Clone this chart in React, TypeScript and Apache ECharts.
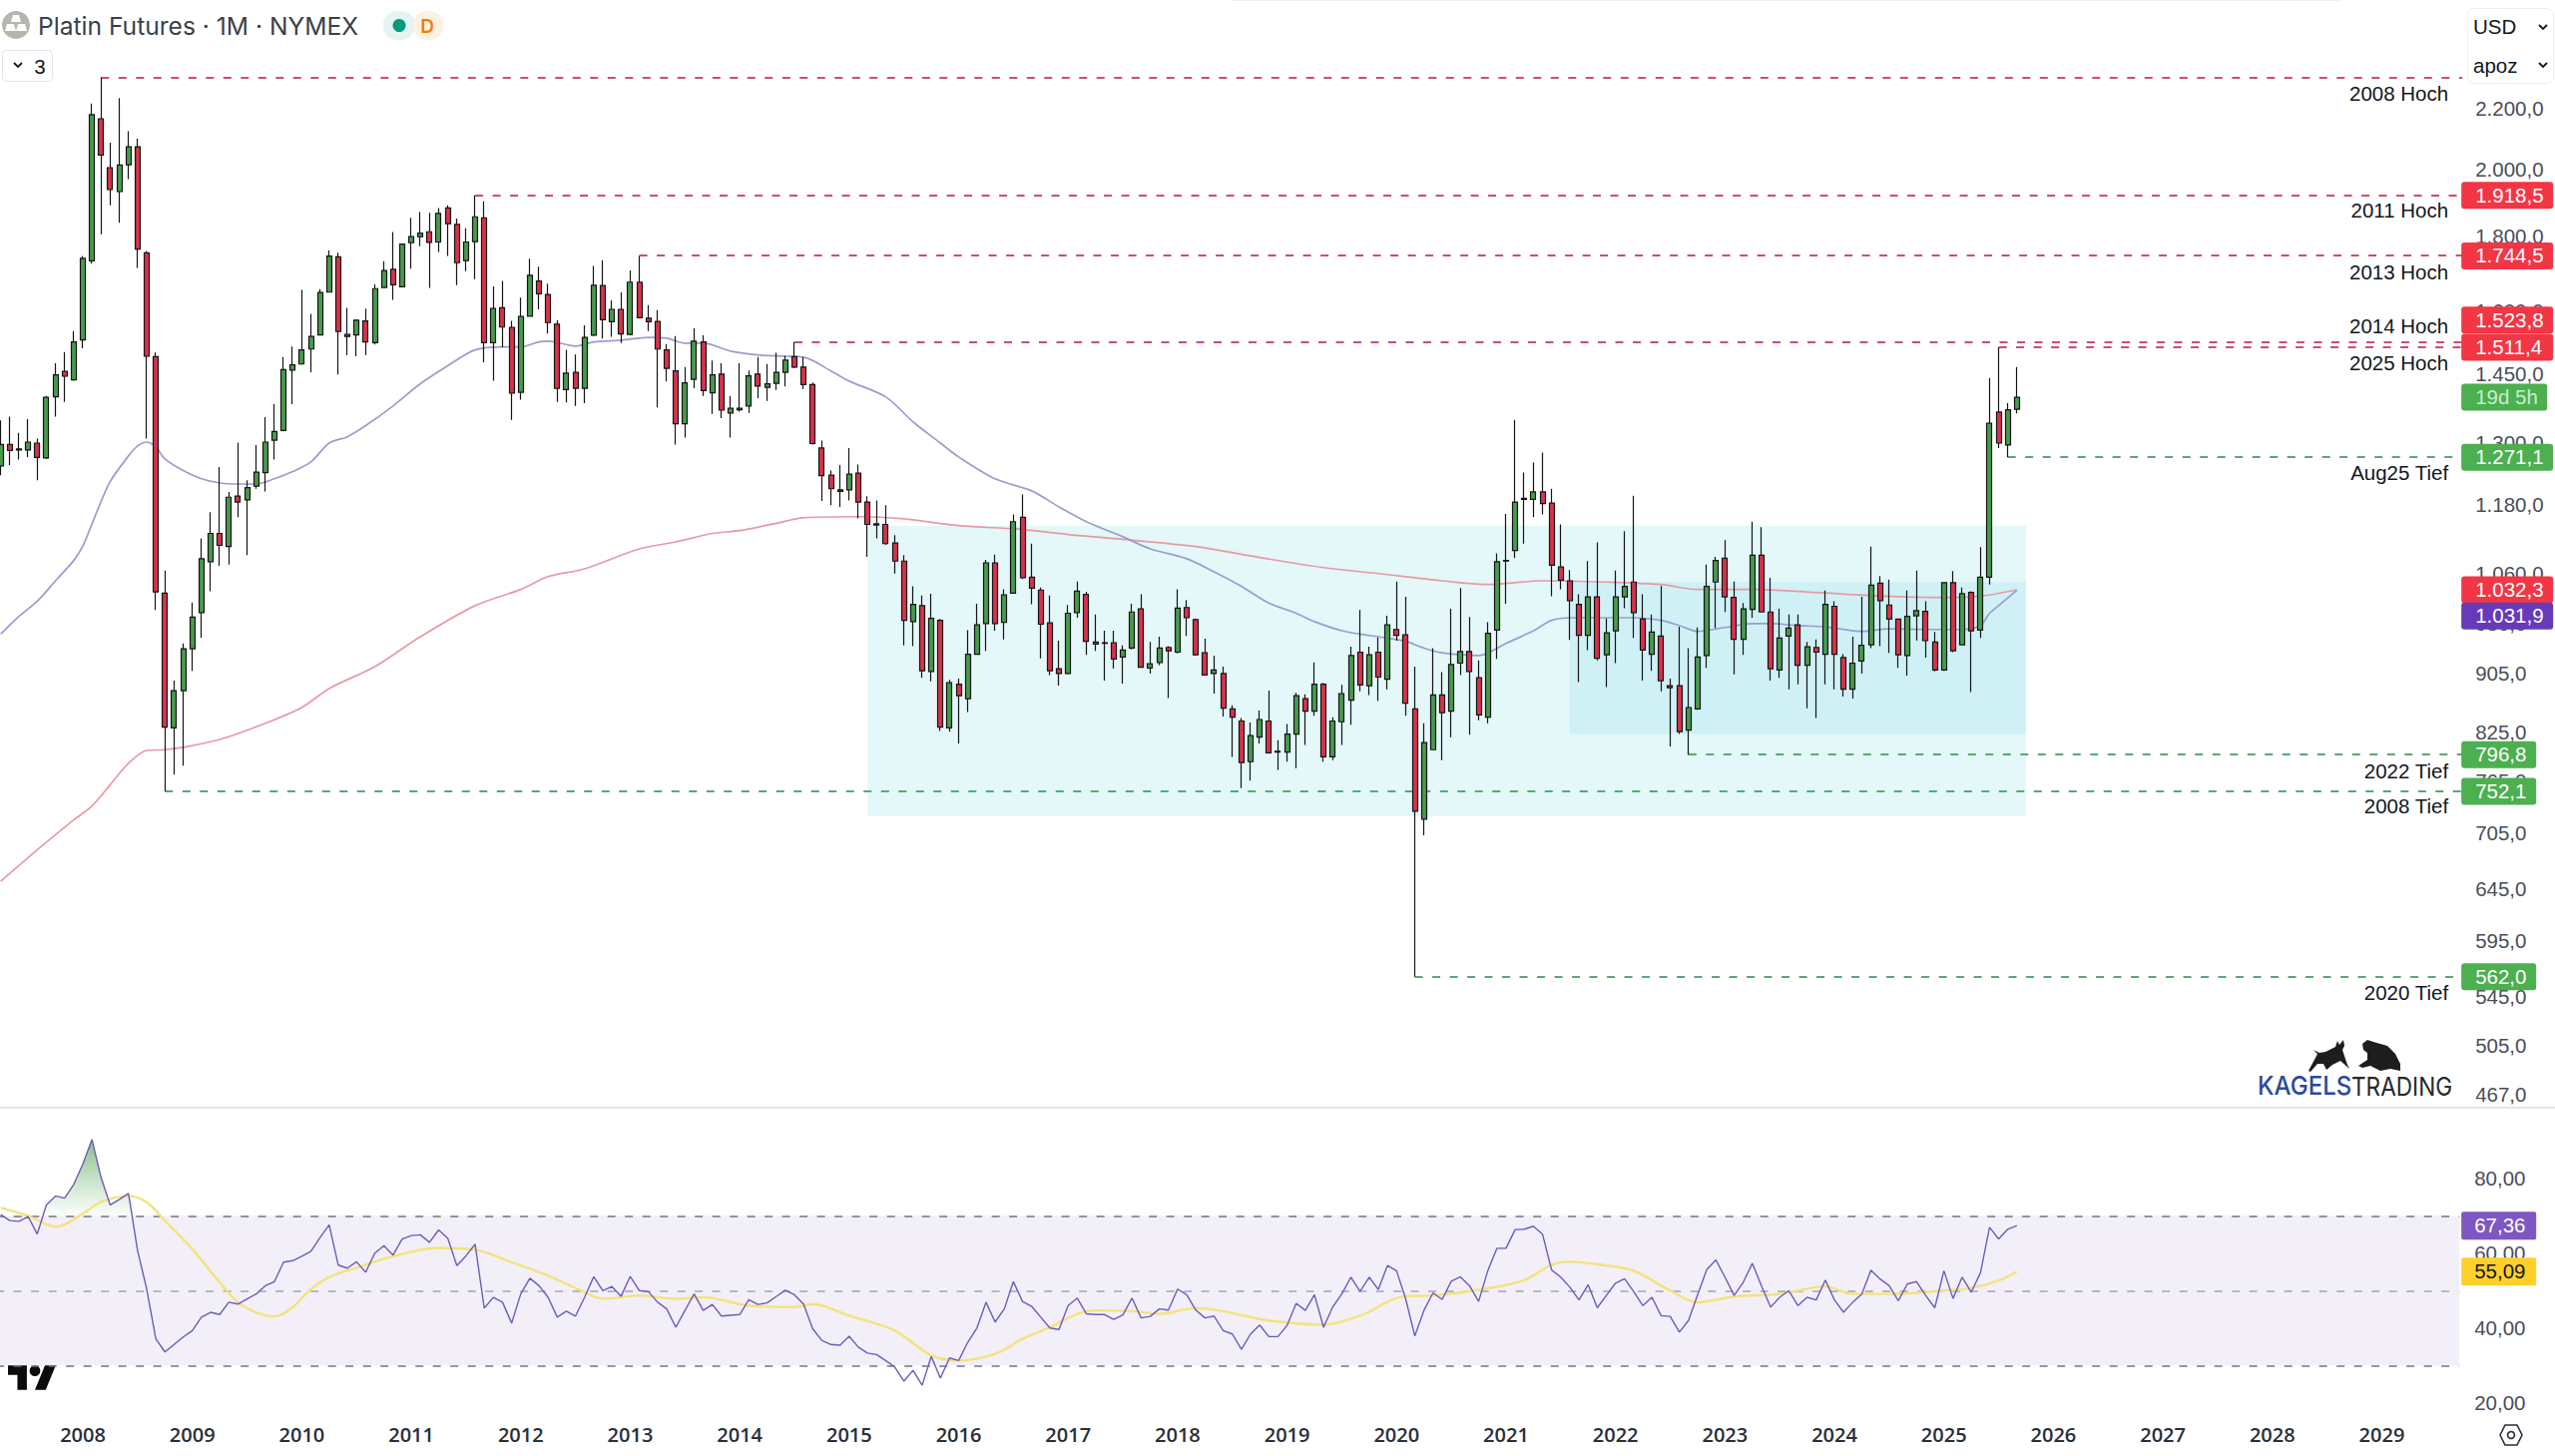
import React, { useEffect, useRef } from "react";
import * as echarts from "echarts";

// ---------- data ----------
const firstYear = 2007;
const firstMonth = 4;
const monthCount = 270;
const categories: string[] = [];
for (let k = 0; k < monthCount; k++) {
  const m = firstMonth - 1 + k;
  const y = firstYear + Math.floor(m / 12);
  categories.push(`${y}-${String((m % 12) + 1).padStart(2, "0")}`);
}

const opens = [
  1254, 1297, 1286, 1286, 1300, 1270, 1398, 1455, 1436, 1529,
  1731, 2164, 2004, 1930, 2013, 2071, 1753, 1489, 1027, 831,
  881, 941, 996, 1079, 1128, 1105, 1196, 1189, 1215, 1241,
  1306, 1326, 1458, 1472, 1507, 1541, 1648, 1742, 1542, 1541,
  1575, 1522, 1660, 1708, 1662, 1781, 1798, 1812, 1783, 1881,
  1833, 1732, 1784, 1852, 1522, 1608, 1559, 1408, 1587, 1677,
  1642, 1567, 1414, 1453, 1417, 1540, 1665, 1573, 1604, 1542,
  1674, 1582, 1574, 1505, 1456, 1340, 1437, 1524, 1407, 1449,
  1363, 1370, 1378, 1449, 1419, 1428, 1453, 1489, 1465, 1425,
  1290, 1236, 1205, 1208, 1240, 1185, 1145, 1144, 1111, 1080,
  982, 1007, 908, 984, 831, 890, 870, 933, 979, 1077,
  981, 1027, 1157, 1053, 1032, 980, 912, 905, 996, 1025,
  951, 950, 950, 929, 942, 1002, 913, 921, 943, 936,
  1004, 985, 935, 905, 905, 856, 840, 788, 819, 840,
  801, 800, 823, 870, 853, 890, 794, 839, 868, 936,
  888, 936, 897, 970, 962, 856, 720, 803, 875, 853,
  920, 937, 899, 845, 969, 1080, 1098, 1190, 1190, 1204,
  1183, 1070, 1047, 1009, 961, 1021, 932, 968, 1021, 1045,
  986, 933, 960, 888, 888, 828, 856, 931, 1045, 1085,
  1020, 955, 1001, 1090, 997, 910, 960, 977, 917, 943,
  933, 1006, 928, 883, 923, 947, 1043, 1008, 986, 931,
  991, 998, 951, 910, 1044, 947, 1028, 969, 1053, 1365,
  1296, 1371,
];
const closes = [
  1297, 1285, 1288, 1302, 1271, 1397, 1447, 1444, 1524, 1738,
  2178, 2044, 1936, 2012, 2071, 1763, 1490, 1029, 832, 881,
  941, 989, 1084, 1128, 1107, 1194, 1185, 1212, 1242, 1302,
  1324, 1459, 1470, 1505, 1537, 1647, 1744, 1549, 1537, 1577,
  1524, 1657, 1705, 1667, 1777, 1798, 1808, 1782, 1865, 1835,
  1726, 1783, 1855, 1522, 1606, 1560, 1406, 1586, 1692, 1644,
  1571, 1417, 1451, 1417, 1535, 1666, 1578, 1604, 1543, 1674,
  1583, 1573, 1507, 1462, 1340, 1429, 1526, 1412, 1447, 1369,
  1373, 1373, 1445, 1422, 1427, 1453, 1481, 1465, 1425, 1299,
  1235, 1210, 1208, 1238, 1185, 1144, 1143, 1110, 1080, 984,
  1009, 909, 987, 832, 892, 874, 933, 977, 1077, 979,
  1024, 1149, 1052, 1035, 978, 909, 905, 995, 1030, 952,
  948, 949, 926, 939, 997, 914, 919, 942, 938, 1003,
  988, 932, 903, 910, 857, 845, 787, 821, 842, 799,
  800, 823, 874, 853, 890, 794, 840, 877, 931, 889,
  932, 900, 977, 961, 864, 729, 812, 875, 851, 918,
  937, 908, 848, 964, 1079, 1081, 1185, 1192, 1204, 1182,
  1073, 1048, 1015, 961, 1021, 927, 965, 1021, 1038, 996,
  939, 966, 895, 885, 826, 858, 929, 1038, 1081, 1021,
  955, 1002, 1090, 997, 912, 957, 972, 917, 944, 936,
  1009, 933, 883, 920, 946, 1040, 1015, 986, 932, 990,
  999, 953, 910, 1044, 938, 1026, 968, 1053, 1341, 1300,
  1370, 1397,
];
const highs = [
  1347, 1355, 1321, 1350, 1309, 1400, 1474, 1500, 1550, 1744,
  2216, 2310, 2084, 2236, 2122, 2097, 1758, 1499, 1064, 895,
  949, 1012, 1119, 1166, 1252, 1204, 1301, 1226, 1296, 1354,
  1382, 1488, 1513, 1654, 1593, 1656, 1760, 1753, 1608, 1579,
  1606, 1668, 1730, 1811, 1779, 1852, 1869, 1867, 1881, 1889,
  1850, 1822, 1918.5, 1901, 1663, 1677, 1575, 1634, 1737, 1715,
  1670, 1577, 1505, 1494, 1564, 1717, 1733, 1627, 1647, 1705,
  1744.5, 1615, 1602, 1519, 1538, 1465, 1557, 1540, 1480, 1474,
  1400, 1474, 1457, 1488, 1472, 1498, 1491, 1523.8, 1488, 1430,
  1305, 1245, 1256, 1290, 1257, 1196, 1188, 1179, 1125, 1090,
  1038, 1023, 1026, 986, 896, 898, 969, 1010, 1082, 1091,
  1033, 1162, 1199, 1110, 1036, 1023, 953, 1008, 1046, 1029,
  993, 968, 968, 946, 1010, 1025, 951, 959, 945, 1033,
  1016, 987, 956, 931, 915, 861, 844, 838, 854, 881,
  815, 836, 878, 876, 921, 892, 845, 889, 944, 1000,
  944, 958, 991, 1046, 1021, 915, 837, 942, 907, 1002,
  1035, 989, 924, 981, 1093, 1163, 1348, 1241, 1261, 1281,
  1210, 1144, 1065, 1025, 1080, 1112, 987, 1064, 1132, 1197,
  1025, 993, 1039, 898, 974, 942, 973, 1074, 1087, 1116,
  1046, 1011, 1149, 1139, 1052, 1002, 993, 993, 951, 955,
  1031, 1014, 933, 959, 1021, 1105, 1055, 1049, 987, 1031,
  1064, 1014, 966, 1045, 1063, 1036, 1030, 1104, 1440, 1511.4,
  1384, 1465,
];
const lows = [
  1236, 1256, 1267, 1272, 1226, 1268, 1355, 1387, 1434, 1509,
  1724, 1805, 1889, 1838, 1968, 1712, 1309, 1000, 752.1, 772,
  783, 909, 957, 1030, 1072, 1074, 1157, 1090, 1210, 1205,
  1267, 1324, 1382, 1470, 1453, 1540, 1648, 1448, 1493, 1490,
  1493, 1518, 1658, 1628, 1660, 1710, 1771, 1659, 1755, 1744,
  1666, 1703, 1682, 1476, 1434, 1511, 1348, 1392, 1587, 1604,
  1544, 1387, 1386, 1378, 1384, 1538, 1532, 1536, 1521, 1540,
  1582, 1550, 1375, 1432, 1297, 1311, 1417, 1400, 1361, 1352,
  1311, 1366, 1363, 1395, 1389, 1413, 1421, 1462, 1415, 1297,
  1187, 1179, 1176, 1188, 1155, 1087, 1119, 1108, 1059, 946,
  945, 899, 894, 827, 826, 811, 852, 932, 938, 968,
  955, 1026, 1050, 1009, 927, 903, 888, 904, 988, 932,
  938, 895, 912, 891, 940, 913, 905, 917, 871, 934,
  960, 931, 902, 877, 846, 794, 756, 765, 811, 798,
  778, 788, 780, 809, 847, 788, 790, 809, 835, 880,
  875, 867, 883, 953, 847, 562, 702, 803, 790, 819,
  903, 822, 841, 837, 926, 1010, 1085, 1110, 1157, 1162,
  1022, 1033, 954, 893, 939, 924, 886, 920, 1003, 957,
  895, 909, 880, 807, 823, 796.8, 855, 913, 972, 997,
  904, 932, 988, 996, 895, 899, 883, 890, 857, 844,
  890, 883, 873, 870, 905, 942, 945, 935, 913, 902,
  953, 928, 908, 909, 936, 946, 879, 957, 1041, 1290,
  1271.1, 1362,
];

const maSlow: [number, number][] = [
  [0, 653], [4, 686], [8, 719], [10, 735], [12, 760], [14, 786], [16, 802], [18, 803], [20, 806],
  [24, 816], [29, 837], [33, 858], [36, 884], [41, 915], [46, 959], [52, 1007], [57, 1033], [60, 1054],
  [64, 1067], [70, 1101], [74, 1113], [78, 1128], [81, 1133], [85, 1146], [88, 1156], [94, 1158],
  [99, 1154], [105, 1142], [112, 1135], [117, 1126], [122, 1119], [131, 1105], [138, 1086], [145, 1069],
  [151, 1059], [158, 1047], [163, 1041], [169, 1047], [176, 1045], [182, 1041], [186, 1033], [192, 1033],
  [199, 1028], [205, 1023], [213, 1020], [217, 1022], [221, 1032.3],
];
const maFast: [number, number][] = [
  [0, 963], [2, 990], [4, 1014], [6, 1047], [8, 1081], [9, 1106], [10, 1145], [11, 1186], [12, 1224],
  [14, 1274], [15, 1294], [16, 1302], [17, 1292], [18, 1268], [20, 1245], [22, 1229], [24, 1221], [26, 1219],
  [28, 1219], [30, 1229], [32, 1243], [34, 1262], [36, 1300], [38, 1313], [40, 1336], [43, 1378], [46, 1427],
  [49, 1468], [52, 1505], [55, 1512], [57, 1512], [59, 1524], [60, 1526], [63, 1514], [65, 1524], [68, 1528],
  [71, 1535], [73, 1533], [75, 1521], [77, 1521], [80, 1502], [83, 1493], [86, 1490], [88, 1488], [91, 1456],
  [93, 1433], [97, 1398], [100, 1344], [103, 1300], [105, 1272], [109, 1229], [113, 1206], [116, 1176],
  [119, 1149], [123, 1122], [126, 1101], [130, 1084], [133, 1062], [136, 1038], [139, 1011], [142, 995],
  [144, 982], [147, 968], [149, 963], [151, 959], [154, 952], [156, 942], [158, 935], [162, 931], [165, 949],
  [168, 968], [170, 984], [172, 988], [176, 988], [179, 988], [182, 984], [184, 976], [186, 967], [189, 973],
  [192, 979], [194, 979], [197, 976], [200, 974], [204, 967], [207, 971], [211, 970], [215, 970], [217, 976],
  [218, 995], [219, 1007], [221, 1031.9],
];

const rsi = [
  70.3, 68.7, 68.5, 69.8, 65.1, 72.9, 75.3, 74.7, 78.4, 83.8,
  90.4, 80.2, 72.9, 74.4, 76, 60.7, 50.4, 37.1, 33.6, 35.6,
  37.6, 39.3, 42.9, 44.2, 43.6, 46.9, 46.4, 47.8, 49.1, 51.3,
  52.4, 57.6, 58, 59.2, 60.5, 64.2, 67.6, 56.8, 56, 57.7,
  54.9, 60, 62, 59.5, 63.8, 64.7, 64.9, 62.9, 66.2, 64,
  56.7, 59.3, 62.4, 45.3, 48.2, 46.9, 41.3, 49.1, 53.3, 51.3,
  48.2, 42.9, 44.5, 43.2, 48.2, 53.7, 50, 51.1, 48.5, 53.8,
  50, 49.7, 46.9, 45.1, 40.2, 44.7, 49.1, 44.7, 46.3, 43.2,
  43.4, 43.6, 47.6, 46.3, 46.7, 48.4, 50.1, 48.9, 46.4, 39.8,
  36.7, 35.6, 35.4, 37.8, 34.9, 33.3, 32.9, 31.3, 29.6, 25.8,
  28.7, 24.7, 32.4, 26.6, 32, 31.3, 36.2, 40, 46.9, 41.6,
  45.1, 52.4, 47.1, 45.8, 42.9, 40, 39.6, 46, 48, 43.8,
  43.6, 43.6, 42.3, 43.5, 48, 42.7, 43.1, 45.1, 44.8, 50.4,
  48.9, 44.8, 42.7, 43.2, 39.3, 38.4, 34.3, 38.4, 40.8, 37.7,
  37.7, 40.7, 46.6, 44.7, 48.9, 40.2, 45.6, 49.1, 53.6, 49.8,
  53.6, 50.3, 56.7, 55.3, 47.8, 37.9, 44.7, 49.4, 47.6, 52.5,
  53.7, 51.3, 47.1, 55.3, 61.3, 61.3, 66.3, 66.4, 67.2, 65.1,
  55.5, 53.6, 50.9, 47.5, 51.6, 45.4, 48.7, 52, 53.2, 49.7,
  46, 48.2, 43.3, 43.1, 38.9, 42, 48.9, 55.6, 58.2, 53.6,
  48.7, 52.2, 57.3, 51.3, 45.6, 48.2, 50, 46, 48.2, 47.5,
  52.8, 47.5, 44.2, 46.9, 49.1, 55.5, 53.1, 51.3, 47.3, 51.8,
  52.4, 48.7, 45.4, 55.3, 47.9, 53.6, 49.6, 54.7, 66.9, 63.8,
  66.4, 67.36,
];
const rsiAvg: [number, number][] = [
  [0, 72.2], [3, 70], [6, 67.1], [9, 70.6], [11, 73.7], [14, 75.3], [16, 73.6], [18, 68.7], [21, 61.1],
  [24, 52.2], [26, 46.9], [28, 44.2], [30, 43.1], [32, 45.6], [34, 50.4], [36, 53.6], [40, 56.9], [44, 59.8],
  [48, 61.4], [52, 60.9], [56, 57.6], [60, 54], [64, 49.6], [66, 47.8], [70, 48.7], [74, 47.8], [77, 48.2],
  [82, 46], [87, 45.6], [89, 46.4], [93, 43.3], [98, 39.3], [102, 32.7], [105, 31.3], [109, 33.1], [112, 37.1],
  [115, 40.2], [118, 43.8], [120, 44.7], [124, 44.5], [127, 43.8], [131, 45.3], [134, 44.5], [139, 42],
  [145, 40.9], [149, 43.3], [154, 48.5], [157, 48.7], [162, 50.2], [167, 52.8], [170, 56.9], [172, 57.7],
  [176, 56.7], [179, 55.3], [183, 50], [186, 46.9], [190, 48.4], [195, 49.1], [200, 51.1], [203, 49.1],
  [207, 49.1], [213, 50], [216, 50.7], [219, 52.7], [221, 55.09],
];

const levelStarts = [11, 52, 70, 87, 219, 220, 185, 18, 155];
const levelPrices = [2309, 1918.5, 1744.5, 1523.8, 1511.4, 1271.1, 796.8, 752.1, 562.0];
const levelNames = ["2008 Hoch", "2011 Hoch", "2013 Hoch", "2014 Hoch", "2025 Hoch", "Aug25 Tief", "2022 Tief", "2008 Tief", "2020 Tief"];

const priceTicks = [2200, 2000, 1800, 1600, 1450, 1300, 1180, 1060, 980, 905, 825, 765, 705, 645, 595, 545, 505, 467];
const rsiTicks = [20, 40, 60, 80];
const rsiLevels = [70, 50, 30];

const tagPrices = [1918.5, 1744.5, 1523.8, 1511.4, 1397, 1271.1, 1032.3, 1031.9, 796.8, 752.1, 562.0];
const tagTexts = ["1.918,5", "1.744,5", "1.523,8", "1.511,4", "19d 5h", "1.271,1", "1.032,3", "1.031,9", "796,8", "752,1", "562,0"];
const rsiTagValues = [67.36, 55.09];
const rsiTagTexts = ["67,36", "55,09"];

// ---------- styles ----------
const RED = "#f23645";
const GREEN = "#4caf50";
const PURPLE = "#673ab7";
const tagFills = [RED, RED, RED, RED, GREEN, GREEN, RED, PURPLE, GREEN, GREEN, GREEN];
const tagOffsets = [0, 0, -22, 0, 0, 0, 0, 26, 0, 0, 0];
const tagWidths = [92, 92, 92, 92, 86, 92, 92, 92, 75, 75, 75];
const levelColors = ["#cc4f6b", "#cc4f6b", "#cc4f6b", "#cc4f6b", "#cc4f6b", "#5aa872", "#5aa872", "#5aa872", "#5aa872"];
const levelLabelOffsets = [16, 15, 16, -16, 16, 15, 16, 15, 16];
const FONT = "Inter";
const LABEL_FONT = "'Liberation Sans'";

echarts.graphic.registerShape(
  "tvlogo",
  echarts.graphic.extendPath("M14 22H7V11H0V4h14v18zM28 22h-8l7.5-18h8L28 22zM20 12a4 4 0 1 0 0-8 4 4 0 0 0 0 8z", {})
);

const priceFmt = (v: number) =>
  v.toLocaleString("de-DE", { minimumFractionDigits: 1, maximumFractionDigits: 1 });
const rsiFmt = (v: number) =>
  v.toLocaleString("de-DE", { minimumFractionDigits: 2, maximumFractionDigits: 2 });

function levelItem(params: any, api: any) {
  const k = params.dataIndex;
  const p = api.coord([api.value(0), api.value(1)]);
  const cs = params.coordSys;
  const right = cs.x + cs.width;
  const crisp = Math.round(p[1]);
  return {
    type: "group",
    children: [
      {
        type: "line",
        shape: { x1: p[0], y1: crisp, x2: right + 3, y2: crisp },
        style: { stroke: levelColors[k], lineWidth: 2, lineDash: [8, 9.5] },
      },
      {
        type: "text",
        style: {
          x: right - 11,
          y: p[1] + levelLabelOffsets[k],
          text: levelNames[k],
          fill: "#131722",
          font: `20.5px ${LABEL_FONT}`,
          align: "right",
          verticalAlign: "middle",
        },
      },
    ],
  };
}

function tagItem(params: any, api: any) {
  const k = params.dataIndex;
  const p = api.coord([0, api.value(1)]);
  const cs = params.coordSys;
  const x = cs.x + cs.width + 2;
  const cy = p[1] + tagOffsets[k];
  return {
    type: "group",
    children: [
      { type: "rect", shape: { x, y: cy - 13.5, width: tagWidths[k], height: 27, r: 3 }, style: { fill: tagFills[k] } },
      {
        type: "text",
        style: {
          x: x + 14,
          y: cy - 0.5,
          text: tagTexts[k],
          fill: tagTexts[k] === "19d 5h" ? "#c8eec9" : "#ffffff",
          font: `20.5px ${LABEL_FONT}`,
          align: "left",
          verticalAlign: "middle",
        },
      },
    ],
  };
}

function rsiTagItem(params: any, api: any) {
  const k = params.dataIndex;
  const p = api.coord([0, api.value(1)]);
  const cs = params.coordSys;
  const x = cs.x + cs.width + 2;
  return {
    type: "group",
    children: [
      { type: "rect", shape: { x, y: p[1] - 14, width: 75, height: 28, r: 2 }, style: { fill: k === 0 ? "#7e57c2" : "#ffd02b" } },
      {
        type: "text",
        style: {
          x: x + 13,
          y: p[1] - 0.5,
          text: rsiTagTexts[k],
          fill: k === 0 ? "#ffffff" : "#131722",
          font: `20.5px ${LABEL_FONT}`,
          align: "left",
          verticalAlign: "middle",
        },
      },
    ],
  };
}

function chevron(x: number, y: number) {
  return {
    type: "polyline",
    shape: { points: [[x - 4, y - 2], [x, y + 2], [x + 4, y - 2]] },
    style: { stroke: "#131722", lineWidth: 1.8, fill: "none" },
  };
}

const chrome: any[] = [
  { type: "rect", shape: { x: 0, y: 1109, width: 2560, height: 2 }, style: { fill: "#e4e6ec" } },
  { type: "rect", shape: { x: 1233, y: 0, width: 1112, height: 1 }, style: { fill: "#f0f0f0" } },
  // symbol title
  { type: "circle", shape: { cx: 16, cy: 25, r: 14 }, style: { fill: "#b8b6ac" } },
  { type: "polygon", shape: { points: [[13, 15], [19, 15], [21, 22], [11, 22]] }, style: { fill: "#ffffff" } },
  { type: "polygon", shape: { points: [[7, 24], [14, 24], [16, 31], [5, 31]] }, style: { fill: "#ffffff" } },
  { type: "polygon", shape: { points: [[18, 24], [25, 24], [27, 31], [16, 31]] }, style: { fill: "#ffffff" } },
  { type: "text", style: { x: 38, y: 26, text: "Platin Futures · 1M · NYMEX", fill: "#3b3f4a", font: `24.6px ${FONT}`, align: "left", verticalAlign: "middle" } },
  { type: "rect", shape: { x: 384, y: 11, width: 32, height: 29, r: 14 }, style: { fill: "#e3f4f2" } },
  { type: "rect", shape: { x: 414, y: 11, width: 30, height: 29, r: 14 }, style: { fill: "#fdf1e0" } },
  { type: "circle", shape: { cx: 400, cy: 25.5, r: 6.5 }, style: { fill: "#089981" } },
  { type: "text", style: { x: 428, y: 26, text: "D", fill: "#f57c00", font: `600 19px ${FONT}`, align: "center", verticalAlign: "middle" } },
  // collapsed indicators
  { type: "rect", shape: { x: 2.5, y: 50.5, width: 50, height: 31, r: 4 }, style: { fill: "#ffffff", stroke: "#e0e3eb", lineWidth: 1 } },
  chevron(18, 65),
  { type: "text", style: { x: 40, y: 66, text: "3", fill: "#131722", font: `20.5px ${LABEL_FONT}`, align: "center", verticalAlign: "middle" } },
  // top-right selectors
  { type: "rect", shape: { x: 2472.5, y: 8.5, width: 86, height: 75, r: 6 }, style: { fill: "#ffffff", stroke: "#eceef2", lineWidth: 1 } },
  { type: "text", style: { x: 2478, y: 26, text: "USD", fill: "#131722", font: `20.5px ${LABEL_FONT}`, align: "left", verticalAlign: "middle" } },
  chevron(2548, 27),
  { type: "text", style: { x: 2478, y: 65, text: "apoz", fill: "#131722", font: `20.5px ${LABEL_FONT}`, align: "left", verticalAlign: "middle" } },
  chevron(2548, 65),
  // TradingView mark
  { type: "tvlogo", x: 8, y: 1362.5, scaleX: 1.35, scaleY: 1.38, style: { fill: "#0b0b0b" } },
  // settings icon
  { type: "polygon", shape: { points: [[2505, 1438], [2510, 1428], [2522, 1428], [2527, 1438], [2522, 1448], [2510, 1448]] }, style: { fill: "none", stroke: "#2a2e39", lineWidth: 1.6 } },
  { type: "circle", shape: { cx: 2516, cy: 1438, r: 3.5 }, style: { fill: "none", stroke: "#2a2e39", lineWidth: 1.6 } },
  // author logo
  { type: "polygon", shape: { points: [[2313, 1073], [2320, 1060], [2322, 1056], [2318, 1052], [2324, 1055], [2330, 1054], [2340, 1049], [2342, 1043], [2344, 1047], [2348, 1042], [2349, 1048], [2347, 1052], [2352, 1067], [2354, 1071], [2345, 1063], [2337, 1067], [2331, 1072], [2328, 1066], [2322, 1066], [2315, 1074]] }, style: { fill: "#1d1d1f" } },
  { type: "polygon", shape: { points: [[2363, 1068], [2372, 1062], [2372, 1055], [2368, 1052], [2367, 1046], [2372, 1042], [2378, 1044], [2392, 1048], [2400, 1056], [2405, 1066], [2405, 1073], [2395, 1071], [2385, 1073], [2375, 1068], [2367, 1070]] }, style: { fill: "#1d1d1f" } },
  { type: "text", x: 2262, y: 1088, scaleX: 0.925, style: { text: "KAGELS", fill: "#2c4a9c", font: `500 26px ${FONT}`, align: "left", verticalAlign: "middle" } },
  { type: "text", x: 2356, y: 1088, scaleX: 0.87, style: { text: "TRADING", fill: "#26282c", font: `400 26px ${FONT}`, align: "left", verticalAlign: "middle" } },
];

export default function App() {
  const ref = useRef<HTMLDivElement>(null);
  useEffect(() => {
    document.body.style.margin = "0";
    document.body.style.background = "#ffffff";
    const chart = echarts.init(ref.current!, undefined, { renderer: "svg" });
    const candles = opens.map((o, i) => [o, closes[i], lows[i], highs[i]]);
    const overbought = rsi.map((v, i) => (i >= 3 && i <= 16 ? Math.max(v - 70, 0) : null));
    const obBase = rsi.map((_, i) => (i >= 3 && i <= 16 ? 70 : null));
    chart.setOption({
      animation: false,
      backgroundColor: "#ffffff",
      textStyle: { fontFamily: LABEL_FONT },
      graphic: { elements: chrome },
      grid: [
        { left: -3.83, top: 0, width: 2468, height: 1110, containLabel: false, outerBoundsMode: "none" },
        { left: -3.83, top: 1112, width: 2468, height: 308, containLabel: false, outerBoundsMode: "none" },
      ],
      xAxis: [
        {
          type: "category", gridIndex: 0, data: categories,
          axisLine: { show: false }, axisTick: { show: false }, axisLabel: { show: false }, splitLine: { show: false },
        },
        {
          type: "category", gridIndex: 1, data: categories,
          axisLine: { show: false }, axisTick: { show: false }, splitLine: { show: false },
          axisLabel: {
            show: true, margin: 7, color: "#2a2e39", fontFamily: "'Open Sans'", fontSize: 20, fontWeight: 600,
            interval: (_: number, v: string) => v.endsWith("-01"),
            formatter: (v: string) => v.slice(0, 4),
          },
        },
      ],
      yAxis: [
        {
          type: "log", logBase: 10, gridIndex: 0, min: 457.5, max: 2608, position: "right",
          axisLine: { show: false }, axisTick: { show: false }, splitLine: { show: false }, minorTick: { show: false },
          axisLabel: {
            show: true, customValues: priceTicks, margin: 16, align: "left", color: "#4a4e59", padding: [0, 0, 2, 0],
            fontFamily: LABEL_FONT, fontSize: 20.5, formatter: (v: number) => priceFmt(v),
          },
        },
        {
          type: "value", gridIndex: 1, min: 16.2, max: 98.35, position: "right",
          axisLine: { show: false }, axisTick: { show: false }, splitLine: { show: false },
          axisLabel: {
            show: true, customValues: rsiTicks, margin: 15, align: "left", color: "#4a4e59", padding: [0, 0, 2, 0],
            fontFamily: LABEL_FONT, fontSize: 20.5, formatter: (v: number) => rsiFmt(v),
          },
        },
      ],
      series: [
        {
          type: "line", name: "MA slow", data: maSlow, xAxisIndex: 0, yAxisIndex: 0, showSymbol: false, smooth: 0.3, z: 1,
          lineStyle: { color: "#e79aa5", width: 1.7 }, silent: true,
          markArea: {
            z: 0, silent: true,
            data: [
              [{ xAxis: 95, yAxis: 1142, itemStyle: { color: "#e4f7f9" } }, { xAxis: 222, yAxis: 723.4 }],
              [{ xAxis: 172, yAxis: 1045, itemStyle: { color: "#cff1f6" } }, { xAxis: 222, yAxis: 823 }],
            ],
          },
        },
        {
          type: "line", name: "MA fast", data: maFast, xAxisIndex: 0, yAxisIndex: 0, showSymbol: false, smooth: 0.3, z: 1,
          lineStyle: { color: "#9a9dcd", width: 1.7 }, silent: true,
        },
        {
          type: "custom", name: "levels", xAxisIndex: 0, yAxisIndex: 0, z: 1, silent: true,
          data: levelStarts.map((s, k) => [s, levelPrices[k]]),
          renderItem: levelItem,
        },
        {
          type: "candlestick", name: "Platin", data: candles, xAxisIndex: 0, yAxisIndex: 0, barWidth: 5.5, z: 3, silent: true,
          itemStyle: { color: "#489a4c", color0: "#d8324a", borderColor: "#151515", borderColor0: "#151515", borderWidth: 1.2 },
        },
        {
          type: "custom", name: "tags", xAxisIndex: 0, yAxisIndex: 0, z: 6, silent: true,
          data: tagPrices.map((p) => [0, p]),
          renderItem: tagItem,
        },
        {
          type: "line", name: "base", data: obBase, xAxisIndex: 1, yAxisIndex: 1, stack: "ob", showSymbol: false, z: 1,
          lineStyle: { opacity: 0 }, silent: true,
        },
        {
          type: "line", name: "overbought", data: overbought, xAxisIndex: 1, yAxisIndex: 1, stack: "ob", showSymbol: false, z: 1,
          lineStyle: { opacity: 0 }, silent: true,
          areaStyle: {
            color: new echarts.graphic.LinearGradient(0, 0, 0, 1, [
              { offset: 0, color: "rgba(56,142,60,0.85)" },
              { offset: 1, color: "rgba(76,175,80,0.03)" },
            ]),
          },
        },
        {
          type: "line", name: "RSI MA", data: rsiAvg, xAxisIndex: 1, yAxisIndex: 1, showSymbol: false, smooth: 0.35, z: 2,
          lineStyle: { color: "#f3e37c", width: 2.4 }, silent: true,
        },
        {
          type: "line", name: "RSI", data: rsi, xAxisIndex: 1, yAxisIndex: 1, showSymbol: false, z: 3,
          lineStyle: { color: "#6d5cb8", width: 1.4 }, silent: true,
          markArea: {
            z: 0, silent: true,
            data: [[{ yAxis: rsiLevels[0], itemStyle: { color: "#f2eff9" } }, { yAxis: rsiLevels[2] }]],
          },
          markLine: {
            z: 1, silent: true, symbol: "none", label: { show: false },
            data: [
              { yAxis: rsiLevels[0], lineStyle: { color: "#74757f", type: [8, 9.5], width: 1.5 } },
              { yAxis: rsiLevels[1], lineStyle: { color: "#a4a5ad", type: [8, 9.5], width: 1.5 } },
              { yAxis: rsiLevels[2], lineStyle: { color: "#74757f", type: [8, 9.5], width: 1.5 } },
            ],
          },
        },
        {
          type: "custom", name: "rsi tags", xAxisIndex: 1, yAxisIndex: 1, z: 6, silent: true,
          data: rsiTagValues.map((v) => [0, v]),
          renderItem: rsiTagItem,
        },
      ],
    });
    return () => chart.dispose();
  }, []);
  return <div ref={ref} style={{ width: 2560, height: 1459 }} />;
}
